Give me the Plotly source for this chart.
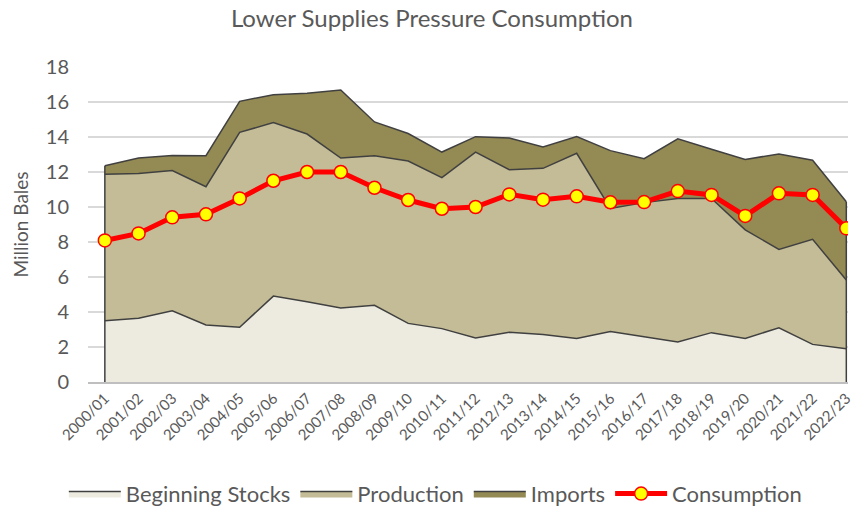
import plotly.graph_objects as go

years = ["2000/01", "2001/02", "2002/03", "2003/04", "2004/05", "2005/06", "2006/07",
         "2007/08", "2008/09", "2009/10", "2010/11", "2011/12", "2012/13", "2013/14",
         "2014/15", "2015/16", "2016/17", "2017/18", "2018/19", "2019/20", "2020/21",
         "2021/22", "2022/23"]
beginning_stocks = [3.50, 3.64, 4.07, 3.26, 3.13, 4.91, 4.59, 4.23, 4.38, 3.35, 3.05, 2.51,
                    2.84, 2.71, 2.48, 2.88, 2.59, 2.29, 2.82, 2.49, 3.10, 2.15, 1.90]
production = [8.37, 8.28, 8.01, 7.90, 11.14, 9.91, 9.58, 8.57, 8.55, 9.28, 8.63, 10.63,
              9.29, 9.50, 10.59, 7.04, 7.66, 8.20, 7.67, 6.20, 4.48, 6.00, 3.93]
imports = [0.49, 0.88, 0.87, 1.77, 1.77, 1.60, 2.33, 3.89, 1.93, 1.57, 1.46, 0.88,
           1.81, 1.22, 0.95, 3.30, 2.51, 3.41, 2.81, 4.03, 5.45, 4.52, 4.47]
consumption = [8.09, 8.49, 9.41, 9.58, 10.49, 11.50, 12.00, 12.00, 11.10, 10.40, 9.90, 10.00,
               10.72, 10.42, 10.61, 10.27, 10.28, 10.91, 10.69, 9.49, 10.78, 10.69, 8.78]
y_ticks = [0, 2, 4, 6, 8, 10, 12, 14, 16, 18]

x = list(range(len(years)))
FONT = "Lato, 'Open Sans', sans-serif"
TXT = "#595959"
EDGE = "#404040"

fig = go.Figure()
for name, vals, col in [("Beginning Stocks", beginning_stocks, "#EDEBE0"),
                        ("Production", production, "#C4BC96"),
                        ("Imports", imports, "#948A54")]:
    fig.add_trace(go.Scatter(x=x, y=vals, name=name, mode="lines", stackgroup="s",
                             fillcolor=col, line=dict(color=EDGE, width=1.5)))

totals = [a + b + c for a, b, c in zip(beginning_stocks, production, imports)]
for i in (0, len(x) - 1):
    fig.add_trace(go.Scatter(x=[x[i], x[i]], y=[0, totals[i]], mode="lines",
                             line=dict(color=EDGE, width=1.5), showlegend=False,
                             hoverinfo="skip"))

fig.add_trace(go.Scatter(x=x, y=consumption, name="Consumption", mode="lines+markers",
                         line=dict(color="#FF0000", width=5),
                         marker=dict(size=13, color="#FFFF00",
                                     line=dict(color="#FF0000", width=1.5))))

fig.update_layout(
    width=857, height=508,
    margin=dict(l=88, r=9, t=67, b=126, autoexpand=False),
    paper_bgcolor="white", plot_bgcolor="white",
    font=dict(family=FONT, color=TXT, size=16),
    title=dict(text="Lower Supplies Pressure Consumption", x=0.504, xanchor="center",
               xref="container", y=0.964, yanchor="middle",
               font=dict(size=24, color=TXT, family=FONT)),
    showlegend=True,
    legend=dict(orientation="h", x=0.457, xanchor="center", y=0.028, yref="container",
                yanchor="middle", font=dict(size=22, color=TXT, family=FONT),
                traceorder="normal", itemwidth=52),
)
fig.update_xaxes(range=[-0.5, 22.05], tickmode="array", tickvals=x, ticktext=years,
                 tickangle=-45, tickfont=dict(size=15, color=TXT), showgrid=False,
                 showline=True, linecolor="#BFBFBF", linewidth=1.5, ticks="",
                 zeroline=False, automargin=False)
fig.update_yaxes(range=[0, 18], tickmode="array", tickvals=y_ticks,
                 tickfont=dict(size=20, color=TXT), showgrid=True, gridcolor="#D9D9D9",
                 gridwidth=1.5, zeroline=False, showline=False, ticks="", automargin=False,
                 ticklabelstandoff=18,
                 title=dict(text="Million Bales", font=dict(size=19, color=TXT), standoff=12))

fig.write_html("out.html", config={"displayModeBar": False},
               post_script="document.body.style.margin='0';document.body.style.overflow='hidden';")
